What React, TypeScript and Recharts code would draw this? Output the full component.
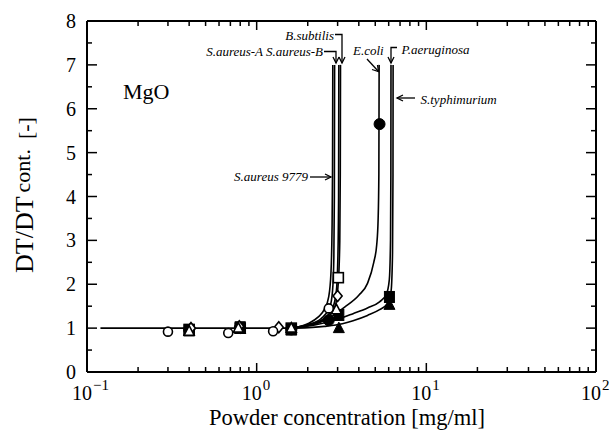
import React from 'react';
import { ComposedChart, Line, Scatter, XAxis, YAxis } from 'recharts';

const W = 615;
const H = 431;
const FONT = '"Liberation Serif", "Times New Roman", serif';

// axis ticks (log x, linear y)
const X_TICKS = [
  0.1, 0.2, 0.3, 0.4, 0.5, 0.6, 0.7, 0.8, 0.9,
  1, 2, 3, 4, 5, 6, 7, 8, 9,
  10, 20, 30, 40, 50, 60, 70, 80, 90, 100,
];
const X_DECADES = [0.1, 1, 10, 100];
const X_EXPONENTS = ['\u22121', '0', '1', '2'];
const Y_TICKS = [0, 0.5, 1, 1.5, 2, 2.5, 3, 3.5, 4, 4.5, 5, 5.5, 6, 6.5, 7, 7.5, 8];

type Pt = [number, number];

// fitted curves: [concentration, DT/DTcont]
const BASELINE: Pt[] = [[0.12, 1.0], [0.3, 1.0], [0.8, 1.0], [1.6, 1.0]];
const FIT_SA9779: Pt[] = [[1.6, 1.0], [2.0, 1.1], [2.3, 1.25], [2.5, 1.42], [2.66, 1.72], [2.74, 2.25], [2.78, 3.2], [2.8, 4.6], [2.81, 7.0]];
const FIT_SAA: Pt[] = [[1.6, 1.0], [2.0, 1.08], [2.4, 1.22], [2.7, 1.48], [2.8, 1.85], [2.85, 2.6], [2.87, 4.0], [2.88, 7.0]];
const FIT_SAB: Pt[] = [[1.6, 1.0], [2.0, 1.07], [2.5, 1.22], [2.8, 1.45], [2.95, 1.85], [3.01, 2.6], [3.04, 4.0], [3.05, 7.0]];
const FIT_BS: Pt[] = [[1.6, 1.0], [2.0, 1.06], [2.5, 1.18], [2.9, 1.5], [3.03, 2.05], [3.09, 3.0], [3.11, 4.5], [3.12, 7.0]];
const FIT_EC: Pt[] = [[1.6, 1.0], [2.2, 1.1], [2.8, 1.28], [3.3, 1.48], [4.0, 1.75], [4.5, 2.02], [4.9, 2.5], [5.1, 2.9], [5.2, 3.5], [5.25, 4.5], [5.27, 7.0]];
const FIT_PA: Pt[] = [[1.6, 1.0], [2.2, 1.07], [3.0, 1.2], [3.7, 1.33], [4.5, 1.46], [5.3, 1.6], [5.8, 1.76], [6.05, 2.1], [6.15, 3.0], [6.18, 4.5], [6.19, 7.0]];
const FIT_ST: Pt[] = [[1.7, 1.0], [2.5, 1.04], [3.2, 1.1], [3.7, 1.17], [4.5, 1.29], [5.3, 1.42], [5.9, 1.56], [6.2, 1.85], [6.32, 2.7], [6.36, 4.5], [6.37, 7.0]];

// measured points
const PTS_SA9779: Pt[] = [[0.3, 0.92], [0.68, 0.89], [1.25, 0.93], [2.66, 1.45]];
const PTS_SAA: Pt[] = [[0.4, 0.93], [0.78, 1.0], [1.6, 1.0], [2.95, 1.42]];
const PTS_SAB: Pt[] = [[0.41, 1.0], [0.79, 1.04], [1.35, 1.02], [3.0, 1.73]];
const PTS_BS: Pt[] = [[0.4, 0.97], [0.8, 1.0], [1.6, 1.0], [3.03, 2.15]];
const PTS_EC: Pt[] = [[0.4, 0.96], [0.8, 1.0], [1.6, 0.97], [2.66, 1.18], [5.3, 5.65]];
const PTS_PA: Pt[] = [[0.4, 0.95], [0.8, 1.02], [1.6, 0.97], [3.05, 1.3], [6.06, 1.71]];
const PTS_ST: Pt[] = [[0.4, 0.93], [0.8, 0.98], [1.6, 0.95], [3.05, 1.0], [6.06, 1.53]];

const rows = (pts: Pt[]) => pts.map(([x, y]) => ({ x, y }));

const CURVES = [BASELINE, FIT_SA9779, FIT_SAA, FIT_SAB, FIT_BS, FIT_EC, FIT_PA, FIT_ST];

// drawing order: open squares under the solid marks, other open marks on top
const MARKS: { pts: Pt[]; kind: string }[] = [
  { pts: PTS_BS, kind: 'square' },
  { pts: PTS_EC, kind: 'dot' },
  { pts: PTS_PA, kind: 'box' },
  { pts: PTS_ST, kind: 'wedge' },
  { pts: PTS_SAB, kind: 'diamond' },
  { pts: PTS_SAA, kind: 'tri' },
  { pts: PTS_SA9779, kind: 'circle' },
];

function Marker({ kind, cx, cy }: { kind: string; cx?: number; cy?: number }) {
  if (cx == null || cy == null) return null;
  const open = { fill: '#fff', stroke: '#000', strokeWidth: 1.6 };
  const solid = { fill: '#000', stroke: '#000', strokeWidth: 1 };
  switch (kind) {
    case 'circle':
      return <circle cx={cx} cy={cy} r={4.5} {...open} />;
    case 'dot':
      return <circle cx={cx} cy={cy} r={5.5} {...solid} />;
    case 'square':
      return <rect x={cx - 5} y={cy - 5} width={10} height={10} {...open} />;
    case 'box':
      return <rect x={cx - 5} y={cy - 5.5} width={10} height={11} {...solid} />;
    case 'tri':
      return <polygon points={`${cx},${cy - 5.5} ${cx + 5},${cy + 4} ${cx - 5},${cy + 4}`} {...open} />;
    case 'wedge':
      return <polygon points={`${cx},${cy - 6} ${cx + 5.5},${cy + 4.5} ${cx - 5.5},${cy + 4.5}`} {...solid} />;
    case 'diamond':
      return <polygon points={`${cx},${cy - 5.5} ${cx + 4.5},${cy} ${cx},${cy + 5.5} ${cx - 4.5},${cy}`} {...open} />;
    default:
      return null;
  }
}

const isDecade = (v: number) => X_DECADES.some((d) => Math.abs(d - v) < 1e-9);
const isInt = (v: number) => Math.abs(v - Math.round(v)) < 1e-9;

function BottomTick(p: any) {
  const v = p.payload.value;
  const major = isDecade(v);
  const idx = X_DECADES.findIndex((d) => Math.abs(d - v) < 1e-9);
  return (
    <g>
      <line x1={p.x} x2={p.x} y1={p.y} y2={p.y - (major ? 9 : 5)} stroke="#000" strokeWidth={1.5} />
      {major && (
        <g fontFamily={FONT} fill="#000">
          <text x={p.x + 5} y={p.y + 28} textAnchor="end" fontSize={20}>10</text>
          <text x={p.x + 6} y={p.y + 18} fontSize={15}>{X_EXPONENTS[idx]}</text>
        </g>
      )}
    </g>
  );
}

function TopTick(p: any) {
  const major = isDecade(p.payload.value);
  return <line x1={p.x} x2={p.x} y1={p.y} y2={p.y + (major ? 9 : 5)} stroke="#000" strokeWidth={1.5} />;
}

function LeftTick(p: any) {
  const v = p.payload.value;
  const major = isInt(v);
  return (
    <g>
      <line x1={p.x} x2={p.x + (major ? 10 : 5)} y1={p.y} y2={p.y} stroke="#000" strokeWidth={1.5} />
      {major && (
        <text x={p.x - 11} y={p.y + 7} textAnchor="end" fontSize={20} fontFamily={FONT} fill="#000">
          {v}
        </text>
      )}
    </g>
  );
}

function RightTick(p: any) {
  const major = isInt(p.payload.value);
  return <line x1={p.x} x2={p.x - (major ? 10 : 5)} y1={p.y} y2={p.y} stroke="#000" strokeWidth={1.5} />;
}

const axisLine = { stroke: '#000', strokeWidth: 2 };

function chevron(x: number, y: number, dir: 'down' | 'left' | 'right' | 'diag') {
  if (dir === 'down') return `M${x - 3},${y - 6} L${x},${y} L${x + 3},${y - 6}`;
  if (dir === 'left') return `M${x + 6},${y - 3} L${x},${y} L${x + 6},${y + 3}`;
  if (dir === 'right') return `M${x - 6},${y - 3} L${x},${y} L${x - 6},${y + 3}`;
  return `M${x - 6.5},${y - 2} L${x},${y} L${x - 1},${y - 6.5}`;
}

function Notes() {
  const it = { fontFamily: FONT, fontStyle: 'italic' as const, fontSize: 13, fill: '#000' };
  const ln = { stroke: '#000', strokeWidth: 1.3, fill: 'none' };
  return (
    <svg width={W} height={H} style={{ position: 'absolute', left: 0, top: 0, pointerEvents: 'none' }}>
      <text x={123} y={99} fontFamily={FONT} fontSize={22}>MgO</text>

      <text x={334} y={40} textAnchor="end" {...it}>B.subtilis</text>
      <path d="M335,34.5 H342 V63" {...ln} />
      <path d={chevron(342, 63, 'down')} {...ln} />

      <text x={323} y={56} textAnchor="end" {...it}>S.aureus-A S.aureus-B</text>
      <path d="M324,51.5 H336 V63" {...ln} />
      <path d={chevron(336, 63, 'down')} {...ln} />

      <text x={353} y={55} {...it}>E.coli</text>
      <path d="M367,59 L378.5,71.5" {...ln} />
      <path d={chevron(378.5, 71.5, 'diag')} {...ln} />

      <text x={401.5} y={53.5} {...it}>P.aeruginosa</text>
      <path d="M397,47.5 H391 V63" {...ln} />
      <path d={chevron(391, 63, 'down')} {...ln} />

      <text x={420.5} y={104} {...it}>S.typhimurium</text>
      <path d="M415,98 H397" {...ln} />
      <path d={chevron(397, 98, 'left')} {...ln} />

      <text x={308} y={181} textAnchor="end" {...it}>S.aureus 9779</text>
      <path d="M310,177 H331" {...ln} />
      <path d={chevron(331, 177, 'right')} {...ln} />

      <text x={347} y={425} textAnchor="middle" fontFamily={FONT} fontSize={22.5}>
        Powder concentration [mg/ml]
      </text>
      <text
        x={33}
        y={195}
        textAnchor="middle"
        transform="rotate(-90 33 195)"
        fontFamily={FONT}
      >
        <tspan fontSize={26}>DT/DT</tspan>
        <tspan fontSize={22} dx={4} dy={-3}>cont.</tspan>
        <tspan fontSize={22} dx={10} dy={3}>[-]</tspan>
      </text>
    </svg>
  );
}

const axisCommon = {
  tickSize: 0,
  tickMargin: 0,
  tickLine: false,
  axisLine,
  interval: 0 as const,
  allowDataOverflow: true,
};

export default function App() {
  return (
    <div style={{ position: 'absolute', left: 0, top: 0, width: W, height: H, background: '#fff' }}>
      <ComposedChart width={W} height={H} margin={{ top: 20, right: 18, bottom: 58, left: 86 }}>
        <XAxis
          xAxisId={0}
          dataKey="x"
          type="number"
          scale="log"
          domain={[0.1, 100]}
          ticks={X_TICKS}
          height={1}
          {...axisCommon}
          tick={(p: any) => <BottomTick {...p} />}
        />
        <XAxis
          xAxisId="top"
          orientation="top"
          dataKey="x"
          type="number"
          scale="log"
          domain={[0.1, 100]}
          ticks={X_TICKS}
          height={1}
          {...axisCommon}
          tick={(p: any) => <TopTick {...p} />}
        />
        <YAxis
          yAxisId={0}
          dataKey="y"
          type="number"
          domain={[0, 8]}
          ticks={Y_TICKS}
          width={1}
          {...axisCommon}
          tick={(p: any) => <LeftTick {...p} />}
        />
        <YAxis
          yAxisId="right"
          orientation="right"
          type="number"
          domain={[0, 8]}
          ticks={Y_TICKS}
          width={1}
          {...axisCommon}
          tick={(p: any) => <RightTick {...p} />}
        />
        {CURVES.map((c, i) => (
          <Line
            key={`c${i}`}
            data={rows(c)}
            dataKey="y"
            type="monotone"
            stroke="#000"
            strokeWidth={1.6}
            dot={false}
            activeDot={false}
            isAnimationActive={false}
          />
        ))}
        {MARKS.map((m, i) => (
          <Scatter
            key={`m${i}`}
            data={rows(m.pts)}
            dataKey="y"
            isAnimationActive={false}
            shape={(p: any) => <Marker kind={m.kind} cx={p.cx} cy={p.cy} />}
          />
        ))}
      </ComposedChart>
      <Notes />
    </div>
  );
}
